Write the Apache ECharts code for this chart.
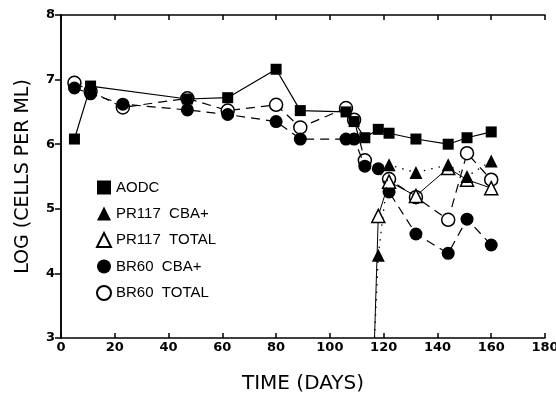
<!DOCTYPE html>
<html>
<head>
<meta charset="utf-8">
<script src="https://cdn.jsdelivr.net/npm/echarts@6/dist/echarts.min.js"></script>
<style>
  html, body { margin: 0; padding: 0; background: #fff; }
  #chart { width: 556px; height: 396px; }
</style>
</head>
<body>
<div id="chart"></div>
<script>
const xTicks = [0, 20, 40, 60, 80, 100, 120, 140, 160, 180]
const yTicks = [3, 4, 5, 6, 7, 8]

// [day, log cells per ml]
const aodc = [[5, 6.08], [11, 6.9], [47, 6.7], [62, 6.72], [80, 7.16], [89, 6.52], [106, 6.5], [109, 6.35], [113, 6.1], [118, 6.23], [122, 6.17], [132, 6.08], [144, 6.0], [151, 6.1], [160, 6.19]]
const pr117Cba = [[116.6, 3.0], [118, 4.28], [122, 5.68], [132, 5.56], [144, 5.68], [151, 5.5], [160, 5.74]]
const pr117Total = [[116.6, 3.0], [118, 4.89], [122, 5.42], [132, 5.2], [144, 5.63], [151, 5.45], [160, 5.32]]
const br60Cba = [[5, 6.87], [11, 6.78], [23, 6.62], [47, 6.53], [62, 6.46], [80, 6.35], [89, 6.08], [106, 6.08], [109, 6.08], [113, 5.66], [118, 5.62], [122, 5.26], [132, 4.61], [144, 4.31], [151, 4.84], [160, 4.44]]
const br60Total = [[5, 6.95], [11, 6.82], [23, 6.57], [47, 6.71], [62, 6.52], [80, 6.61], [89, 6.26], [106, 6.56], [109, 6.38], [113, 5.75], [122, 5.46], [132, 5.18], [144, 4.83], [151, 5.86], [160, 5.45]]

const font = 'Liberation Sans, Arial, sans-serif'
const titleFont = 'DejaVu Sans, sans-serif'

// the first point of the PR117 lines sits on the floor, draw no marker there
const asData = (pts) => pts.map((p) => (p[1] <= 3 ? { value: p, symbol: 'none' } : { value: p }))

const chart = echarts.init(document.getElementById('chart'))
chart.setOption({
  backgroundColor: '#fff',
  animation: false,
  grid: { left: 61, right: 11, top: 15, bottom: 58, containLabel: false, outerBoundsMode: 'none' },
  legend: {
    orient: 'vertical',
    left: 91,
    top: 175,
    itemGap: 11,
    itemWidth: 14,
    itemHeight: 14,
    textStyle: { color: '#000', fontSize: 15, fontFamily: font },
    data: [
      { name: 'AODC', icon: 'rect' },
      { name: 'PR117  CBA+', icon: 'triangle' },
      { name: 'PR117  TOTAL', icon: 'triangle' },
      { name: 'BR60  CBA+', icon: 'circle' },
      { name: 'BR60  TOTAL', icon: 'circle' }
    ]
  },
  xAxis: [
    {
      type: 'value', min: 0, max: 180, interval: 20,
      name: 'TIME (DAYS)', nameLocation: 'middle', nameGap: 36,
      nameTextStyle: { color: '#000', fontSize: 20, fontFamily: titleFont },
      axisLine: { lineStyle: { color: '#000', width: 1.5 } },
      axisTick: { inside: true, length: 5, lineStyle: { color: '#000', width: 1.5 } },
      axisLabel: { color: '#000', fontSize: 13, fontWeight: 'bold', fontFamily: titleFont, margin: 3 },
      splitLine: { show: false }
    },
    {
      type: 'value', min: 0, max: 180, interval: 20, position: 'top',
      axisLine: { lineStyle: { color: '#000', width: 1.5 } },
      axisTick: { inside: true, length: 5, lineStyle: { color: '#000', width: 1.5 } },
      axisLabel: { show: false },
      splitLine: { show: false }
    }
  ],
  yAxis: [
    {
      type: 'value', min: 3, max: 8, interval: 1,
      name: 'LOG (CELLS PER ML)', nameLocation: 'middle', nameGap: 28,
      nameTextStyle: { color: '#000', fontSize: 19, fontFamily: titleFont },
      axisLine: { lineStyle: { color: '#000', width: 1.5 } },
      axisTick: { inside: false, length: 6, lineStyle: { color: '#000', width: 1.5 } },
      axisLabel: { color: '#000', fontSize: 13, fontWeight: 'bold', fontFamily: titleFont, margin: 6 },
      splitLine: { show: false }
    },
    {
      type: 'value', min: 3, max: 8, interval: 1, position: 'right',
      axisLine: { show: true, lineStyle: { color: '#000', width: 1.5 } },
      axisTick: { show: true, inside: true, length: 5, lineStyle: { color: '#000', width: 1.5 } },
      axisLabel: { show: false },
      splitLine: { show: false }
    }
  ],
  series: [
    {
      name: 'BR60  TOTAL', type: 'line', data: asData(br60Total), z: 2,
      symbol: 'circle', symbolSize: 13,
      itemStyle: { color: '#fff', borderColor: '#000', borderWidth: 1.5 },
      lineStyle: { color: '#000', width: 1.2, type: [9, 6] }
    },
    {
      name: 'BR60  CBA+', type: 'line', data: asData(br60Cba), z: 3,
      symbol: 'circle', symbolSize: 13,
      itemStyle: { color: '#000', borderColor: '#000', borderWidth: 0 },
      lineStyle: { color: '#000', width: 1.2, type: [9, 6] }
    },
    {
      name: 'PR117  TOTAL', type: 'line', data: asData(pr117Total), z: 4,
      symbol: 'triangle', symbolSize: 13,
      itemStyle: { color: '#fff', borderColor: '#000', borderWidth: 1.5 },
      lineStyle: { color: '#000', width: 1 }
    },
    {
      name: 'PR117  CBA+', type: 'line', data: asData(pr117Cba), z: 5,
      symbol: 'triangle', symbolSize: 13,
      itemStyle: { color: '#000', borderColor: '#000', borderWidth: 0 },
      lineStyle: { color: '#000', width: 1.3, type: [1.5, 6] }
    },
    {
      name: 'AODC', type: 'line', data: asData(aodc), z: 6,
      symbol: 'rect', symbolSize: 11,
      itemStyle: { color: '#000' },
      lineStyle: { color: '#000', width: 1.2 }
    }
  ]
})
</script>
</body>
</html>
